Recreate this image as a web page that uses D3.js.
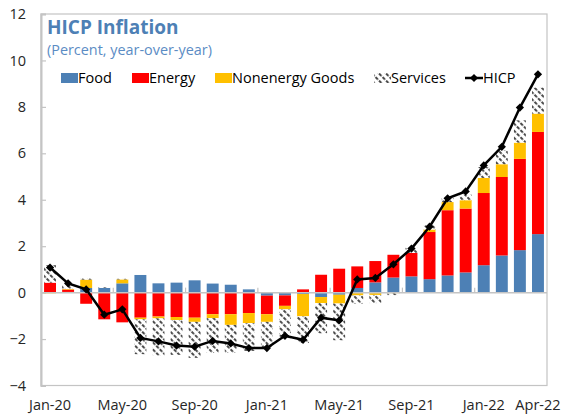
<!DOCTYPE html>
<html>
<head>
<meta charset="utf-8">
<script src="https://cdn.jsdelivr.net/npm/d3@7"></script>
<style>
  body { margin: 0; background: #fff; }
  text { font-family: "Open Sans", sans-serif; }
</style>
</head>
<body>
<script>
// months shown on the chart
const months = ['Jan-20','Feb-20','Mar-20','Apr-20','May-20','Jun-20','Jul-20','Aug-20','Sep-20','Oct-20','Nov-20','Dec-20',
  'Jan-21','Feb-21','Mar-21','Apr-21','May-21','Jun-21','Jul-21','Aug-21','Sep-21','Oct-21','Nov-21','Dec-21',
  'Jan-22','Feb-22','Mar-22','Apr-22'];

// contributions (percentage points)
const food      = [0.0, 0.03, 0.2, 0.2, 0.4, 0.76, 0.4, 0.43, 0.53, 0.39, 0.34, 0.14,
  -0.13, -0.12, -0.06, -0.19, -0.09, 0.2, 0.44, 0.65, 0.7, 0.58, 0.74, 0.87, 1.18, 1.6, 1.83, 2.52];
const energy    = [0.43, 0.1, -0.48, -1.15, -1.28, -1.08, -1.03, -1.05, -1.08, -0.93, -0.93, -0.88,
  -0.8, -0.45, 0.14, 0.77, 1.03, 0.93, 0.92, 0.98, 1.01, 2.03, 2.81, 2.75, 3.11, 3.38, 3.93, 4.4];
const nonenergy = [-0.03, 0.03, 0.36, 0.0, 0.17, -0.07, -0.08, -0.13, -0.18, -0.17, -0.46, -0.43,
  -0.33, -0.15, -0.96, -0.26, -0.38, -0.12, -0.1, -0.03, 0.0, 0.11, 0.35, 0.36, 0.65, 0.55, 0.7, 0.79];
const services  = [0.75, 0.2, 0.05, 0.03, 0.03, -1.5, -1.6, -1.5, -1.55, -1.5, -1.2, -1.2,
  -1.08, -1.26, -1.15, -1.3, -1.58, -0.35, -0.35, -0.08, 0.22, 0.18, 0.18, 0.24, 0.47, 0.6, 0.96, 1.12];
const hicp      = [1.08, 0.4, 0.14, -0.95, -0.72, -1.95, -2.1, -2.28, -2.33, -2.08, -2.19, -2.39,
  -2.39, -1.86, -2.03, -1.08, -1.2, 0.57, 0.63, 1.22, 1.9, 2.84, 4.06, 4.36, 5.48, 6.28, 7.97, 9.4];

const seriesNames = ['Food', 'Energy', 'Nonenergy Goods', 'Services'];
const xLabels = ['Jan-20','May-20','Sep-20','Jan-21','May-21','Sep-21','Jan-22','Apr-22'];
const yTicks = [-4, -2, 0, 2, 4, 6, 8, 10, 12];

const WIDTH = 562;
const HEIGHT = 417;
const box = { left: 41, right: 547, top: 14, bottom: 385.5 };

const colors = {
  'Food': '#4d80b5',
  'Energy': '#ff0000',
  'Nonenergy Goods': '#ffc000',
  'Services': 'url(#hatch)'
};

const table = months.map((m, i) => ({
  month: m,
  'Food': food[i],
  'Energy': energy[i],
  'Nonenergy Goods': nonenergy[i],
  'Services': services[i]
}));

const svg = d3.select('body').append('svg')
  .attr('width', WIDTH)
  .attr('height', HEIGHT);

// hatch pattern for services
const defs = svg.append('defs');
const pat = defs.append('pattern')
  .attr('id', 'hatch')
  .attr('patternUnits', 'userSpaceOnUse')
  .attr('width', 5)
  .attr('height', 5)
  .attr('patternTransform', 'rotate(-45)');
pat.append('rect').attr('width', 5).attr('height', 5).attr('fill', '#fff');
pat.append('line')
  .attr('x1', 1).attr('y1', 0).attr('x2', 1).attr('y2', 5)
  .attr('stroke', '#000').attr('stroke-width', 1.4)
  .attr('stroke-dasharray', '3.5 1.5');

const x = d3.scaleBand()
  .domain(months)
  .range([box.left, box.right])
  .paddingInner(0.34)
  .paddingOuter(0.17);

const y = d3.scaleLinear()
  .domain([-4, 12])
  .range([box.bottom, box.top]);

// plot frame
svg.append('rect')
  .attr('x', box.left).attr('y', box.top)
  .attr('width', box.right - box.left).attr('height', box.bottom - box.top)
  .attr('fill', 'none')
  .attr('stroke', '#c4c4c4')
  .attr('stroke-width', 1.2);

// y axis
const yAxis = svg.append('g')
  .attr('transform', `translate(${box.left},0)`)
  .call(d3.axisLeft(y).tickValues(yTicks).tickSize(-5).tickPadding(15).tickFormat(d3.format('d')));
yAxis.select('.domain').attr('stroke', '#c4c4c4').attr('stroke-width', 2);
yAxis.selectAll('.tick line').attr('stroke', '#c4c4c4').attr('stroke-width', 1.2);
yAxis.selectAll('.tick text')
  .attr('font-size', 14.5)
  .attr('fill', '#262626')
  .style('font-family', '"Open Sans", sans-serif');

// x labels along the bottom
const xAxis = svg.append('g')
  .attr('transform', `translate(0,${box.bottom})`)
  .call(d3.axisBottom(x).tickValues(xLabels).tickSize(0).tickPadding(14));
xAxis.select('.domain').remove();
xAxis.selectAll('.tick text')
  .attr('font-size', 14.5)
  .attr('fill', '#262626')
  .style('font-family', '"Open Sans", sans-serif');

// stacked bars
const stack = d3.stack()
  .keys(seriesNames)
  .offset(d3.stackOffsetDiverging);
const layers = stack(table);

svg.append('g')
  .selectAll('g')
  .data(layers)
  .join('g')
  .attr('fill', d => colors[d.key])
  .selectAll('rect')
  .data(d => d)
  .join('rect')
  .attr('x', d => x(d.data.month))
  .attr('width', x.bandwidth())
  .attr('y', d => y(Math.max(d[0], d[1])))
  .attr('height', d => Math.abs(y(d[0]) - y(d[1])));

// zero line + small category ticks
svg.append('line')
  .attr('x1', box.left).attr('x2', box.right)
  .attr('y1', y(0)).attr('y2', y(0))
  .attr('stroke', '#c4c4c4')
  .attr('stroke-width', 1.5);

const gap = x.step() * x.paddingInner() / 2;
svg.append('g')
  .selectAll('line')
  .data(xLabels.slice(1, -1))
  .join('line')
  .attr('x1', d => x(d) - gap).attr('x2', d => x(d) - gap)
  .attr('y1', y(0)).attr('y2', y(0) - 5)
  .attr('stroke', '#c4c4c4')
  .attr('stroke-width', 1.2);

// HICP line
const line = d3.line()
  .x((d, i) => x(months[i]) + x.bandwidth() / 2)
  .y(d => y(d));

svg.append('path')
  .datum(hicp)
  .attr('d', line)
  .attr('fill', 'none')
  .attr('stroke', '#000')
  .attr('stroke-width', 2.5);

const diamond = d3.symbol().type(d3.symbolSquare).size(34);
svg.append('g')
  .selectAll('path')
  .data(hicp)
  .join('path')
  .attr('d', diamond)
  .attr('transform', (d, i) => `translate(${x(months[i]) + x.bandwidth() / 2},${y(d)}) rotate(45)`)
  .attr('fill', '#000');

// title
svg.append('text')
  .attr('x', 47).attr('y', 34)
  .attr('font-size', 19)
  .attr('font-weight', 'bold')
  .attr('fill', '#4d80b5')
  .text('HICP Inflation');

svg.append('text')
  .attr('x', 47).attr('y', 55)
  .attr('font-size', 14.4)
  .attr('fill', '#5b8cc4')
  .text('(Percent, year-over-year)');

// legend
const legendY = 78;
const legendItems = [
  { name: 'Food', x: 61 },
  { name: 'Energy', x: 132 },
  { name: 'Nonenergy Goods', x: 215 },
  { name: 'Services', x: 374 }
];
const legend = svg.append('g');
legendItems.forEach(it => {
  legend.append('rect')
    .attr('x', it.x).attr('y', legendY - 5)
    .attr('width', 17).attr('height', 10)
    .attr('fill', colors[it.name]);
  legend.append('text')
    .attr('x', it.x + 17).attr('y', legendY)
    .attr('dy', '0.35em')
    .attr('font-size', 14.5)
    .attr('fill', '#000')
    .text(it.name);
});
legend.append('line')
  .attr('x1', 465).attr('x2', 483)
  .attr('y1', legendY).attr('y2', legendY)
  .attr('stroke', '#000').attr('stroke-width', 2.5);
legend.append('path')
  .attr('d', diamond)
  .attr('transform', `translate(474,${legendY}) rotate(45)`)
  .attr('fill', '#000');
legend.append('text')
  .attr('x', 483).attr('y', legendY)
  .attr('dy', '0.35em')
  .attr('font-size', 14.5)
  .attr('fill', '#000')
  .text('HICP');
</script>
</body>
</html>
